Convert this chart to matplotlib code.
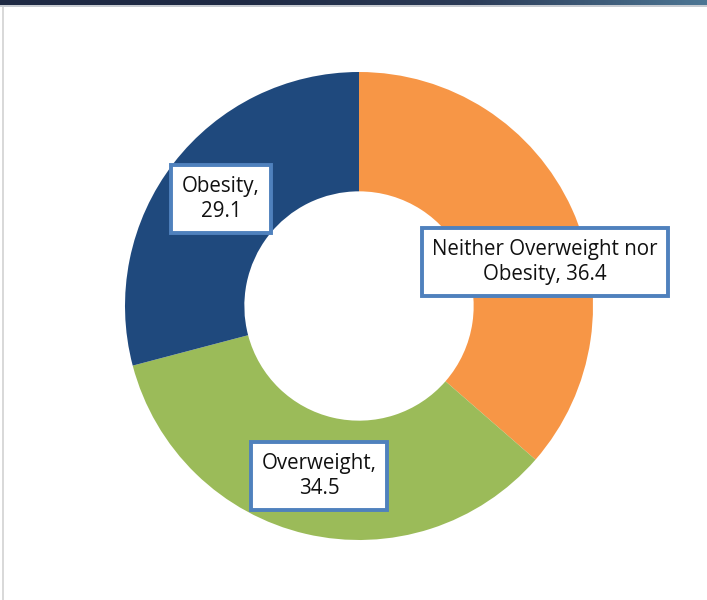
import matplotlib
matplotlib.use("Agg")
import matplotlib.pyplot as plt
import numpy as np
from matplotlib.colors import LinearSegmentedColormap

labels = ["Neither Overweight nor\nObesity, 36.4", "Overweight,\n34.5", "Obesity,\n29.1"]
values = [36.4, 34.5, 29.1]
colors = ["#F79646", "#9BBB59", "#1F497D"]

W, H = 707, 600
fig = plt.figure(figsize=(W / 100, H / 100), dpi=100)
fig.patch.set_facecolor("white")

ax = fig.add_axes([0, 0, 1, 1])
ax.set_xlim(0, W)
ax.set_ylim(0, H)
ax.set_aspect("equal")
ax.axis("off")

cx, cy, R = 359, H - 306, 234
ax.pie(values, colors=colors, startangle=90, counterclock=False,
       center=(cx, cy), radius=R, frame=True,
       wedgeprops=dict(width=R * 0.51, edgecolor="none"))
ax.set_xlim(0, W)
ax.set_ylim(0, H)
ax.axis("off")

label_pos = [(545, H - 262), (319, H - 476), (221, H - 199)]
for lab, (x, y) in zip(labels, label_pos):
    ax.text(x, y, lab, ha="center", va="center", multialignment="center",
            fontsize=14.8, family=["Open Sans", "DejaVu Sans"], color="#111111",
            linespacing=1.3,
            bbox=dict(boxstyle="square,pad=0.52", facecolor="white",
                      edgecolor="#4F81BD", linewidth=2.8))

# top gradient bar
bar = fig.add_axes([0, 1 - 5 / H, 1, 5 / H])
cmap = LinearSegmentedColormap.from_list("g", ["#1F2A44", "#1F2A44", "#2C3C58", "#4D7694"])
bar.imshow(np.linspace(0, 1, 256)[None, :], aspect="auto", cmap=cmap, extent=(0, 1, 0, 1))
bar.axis("off")
line = fig.add_axes([0, 1 - 7 / H, 1, 2 / H])
line.set_facecolor("#C8CCD2")
line.set_xticks([]); line.set_yticks([])
for s in line.spines.values():
    s.set_visible(False)
left = fig.add_axes([2 / W, 0, 2 / W, 1 - 7 / H])
left.set_facecolor("#D9D9D9")
left.set_xticks([]); left.set_yticks([])
for s in left.spines.values():
    s.set_visible(False)

fig.savefig("out.png", dpi=100)
